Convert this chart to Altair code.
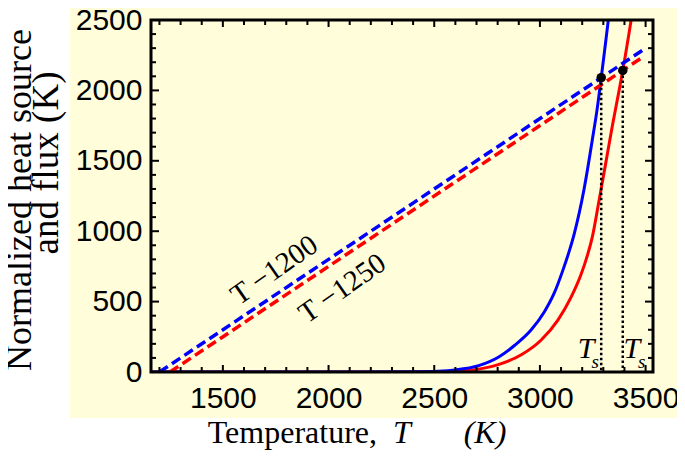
import altair as alt
import pandas as pd

# ---------------- data ----------------
blue_T = [1160, 2000, 2400, 2520, 2600, 2710, 2803, 2881, 2959, 3022, 3069, 3108, 3139,
          3162, 3209, 3248, 3270, 3290, 3305, 3322, 3340]
blue_Q = [0, 0, 2, 6, 15, 45, 105, 190, 300, 430, 565, 720, 860,
          980, 1300, 1650, 1860, 2090, 2270, 2480, 2720]

red_T = [1160, 2000, 2450, 2600, 2693, 2803, 2912, 3006, 3085, 3147, 3194, 3225,
         3248, 3280, 3311, 3343, 3374, 3392, 3405, 3421, 3440, 3455]
red_Q = [0, 0, 1, 5, 16, 52, 122, 227, 369, 530, 690, 830,
         960, 1220, 1480, 1750, 1995, 2142, 2255, 2400, 2580, 2730]

# dashed straight lines (start / end points)
dash_series = ["blue", "blue", "red", "red"]
dash_T = [1200, 3490, 1250, 3490]
dash_Q = [0, 2290, 0, 2240]

# dashed-line labels
lab_text = ["T \u22121200", "T \u22121250"]
lab_T = [1743, 2065]
lab_Q = [724, 594]

# intersection points Ts
ts_series = ["blue", "red"]
ts_T = [3290, 3392]
ts_Q = [2090, 2142]

x_major = [1500, 2000, 2500, 3000, 3500]
y_major = [0, 500, 1000, 1500, 2000, 2500]
x_minor = [1200, 1300, 1400, 1600, 1700, 1800, 1900, 2100, 2200, 2300, 2400,
           2600, 2700, 2800, 2900, 3100, 3200, 3300, 3400]
y_minor = [100, 200, 300, 400, 600, 700, 800, 900, 1100, 1200, 1300, 1400,
           1600, 1700, 1800, 1900, 2100, 2200, 2300, 2400]

# ---------------- styling ----------------
W, H = 502, 352
PAD_R = 24
BG = "#FFFDDA"
XS = alt.Scale(domain=[1160, 3535], nice=False, zero=False)
YS = alt.Scale(domain=[0, 2500], nice=False, zero=False)
XA = alt.Axis(values=x_major, ticks=False, domain=False, grid=False, title=None,
              labelFont="Liberation Sans", labelFontSize=30, labelColor="black",
              labelPadding=11, labelFlush=False, labelOverlap=False, format="d", zindex=3)
YA = alt.Axis(values=y_major, ticks=False, domain=False, grid=False, title=None,
              labelFont="Liberation Sans", labelFontSize=30, labelColor="black",
              labelPadding=9, labelFlush=False, labelOverlap=False, format="d", zindex=3)
COL = alt.Scale(domain=["blue", "red"], range=["#0000FF", "#FF0000"])


def X(f="T"):
    return alt.X(f + ":Q", scale=XS, axis=XA)


def Y(f="Q"):
    return alt.Y(f + ":Q", scale=YS, axis=YA)


blue_df = pd.DataFrame({"T": blue_T, "Q": blue_Q, "s": "blue"})
red_df = pd.DataFrame({"T": red_T, "Q": red_Q, "s": "red"})
dashes = pd.DataFrame({"T": dash_T, "Q": dash_Q, "s": dash_series})
labels = pd.DataFrame({"T": lab_T, "Q": lab_Q, "txt": lab_text})
tsdf = pd.DataFrame({"T": ts_T, "Q": ts_Q, "Z": [0, 0], "s": ts_series})
one = pd.DataFrame({"a": [0]})

bg = alt.Chart(one).mark_rect(color=BG).encode(
    x=alt.value(-81), x2=alt.value(W + PAD_R), y=alt.value(-20), y2=alt.value(398))


def curve(df):
    return alt.Chart(df).mark_line(strokeWidth=3, clip=True, interpolate="monotone").encode(
        x=X(), y=Y(), color=alt.Color("s:N", scale=COL, legend=None))


dash_layer = alt.Chart(dashes).mark_line(strokeWidth=3.5, strokeDash=[10, 5], clip=True).encode(
    x=X(), y=Y(), color=alt.Color("s:N", scale=COL, legend=None), detail="s:N")

dotted = alt.Chart(tsdf).mark_rule(color="black", strokeWidth=2.5, strokeDash=[2.5, 2.5]).encode(
    x=X(), y=Y(), y2="Z:Q")

points = alt.Chart(tsdf).mark_circle(color="black", size=90, opacity=1).encode(x=X(), y=Y())

label_layer = alt.Chart(labels).mark_text(
    font="Liberation Serif", fontSize=29, angle=325, color="black",
    align="center", baseline="middle").encode(x=X(), y=Y(), text="txt:N")

ts_blue = tsdf[tsdf.s == "blue"]
ts_red = tsdf[tsdf.s == "red"]
tsT1 = alt.Chart(ts_blue).mark_text(font="Liberation Serif", fontStyle="italic", fontSize=30,
                                    dx=-15, dy=-14, align="center", baseline="alphabetic",
                                    color="black").encode(x=X(), y=Y("Z"), text=alt.value("T"))
tss1 = alt.Chart(ts_blue).mark_text(font="Liberation Serif", fontStyle="italic", fontSize=19,
                                    dx=-6, dy=-4, align="center", baseline="alphabetic",
                                    color="black").encode(x=X(), y=Y("Z"), text=alt.value("s"))
tsT2 = alt.Chart(ts_red).mark_text(font="Liberation Serif", fontStyle="italic", fontSize=30,
                                   dx=9, dy=-14, align="center", baseline="alphabetic",
                                   color="black").encode(x=X(), y=Y("Z"), text=alt.value("T"))
tss2 = alt.Chart(ts_red).mark_text(font="Liberation Serif", fontStyle="italic", fontSize=19,
                                   dx=19, dy=-4, align="center", baseline="alphabetic",
                                   color="black").encode(x=X(), y=Y("Z"), text=alt.value("s"))

# inward frame ticks
xmaj = pd.DataFrame({"T": x_major})
xmin = pd.DataFrame({"T": x_minor})
ymaj = pd.DataFrame({"Q": y_major})
ymin = pd.DataFrame({"Q": y_minor})
tick_layers = []
for df, ln in ((xmaj, 7), (xmin, 5)):
    tick_layers.append(alt.Chart(df).mark_rule(color="black", strokeWidth=2).encode(
        x=X(), y=alt.value(H), y2=alt.value(H - ln)))
    tick_layers.append(alt.Chart(df).mark_rule(color="black", strokeWidth=2).encode(
        x=X(), y=alt.value(0), y2=alt.value(ln)))
for df, ln in ((ymaj, 8), (ymin, 5)):
    tick_layers.append(alt.Chart(df).mark_rule(color="black", strokeWidth=2).encode(
        y=Y(), x=alt.value(0), x2=alt.value(ln)))
    tick_layers.append(alt.Chart(df).mark_rule(color="black", strokeWidth=2).encode(
        y=Y(), x=alt.value(W), x2=alt.value(W - ln)))

frame = alt.Chart(one).mark_rect(filled=False, stroke="black", strokeWidth=3).encode(
    x=alt.value(0), x2=alt.value(W), y=alt.value(0), y2=alt.value(H))

# titles
xt1 = alt.Chart(one).mark_text(font="Liberation Serif", fontSize=32, align="right",
                               baseline="alphabetic", color="black").encode(
    x=alt.value(226), y=alt.value(423), text=alt.value("Temperature,"))
xt2 = alt.Chart(one).mark_text(font="Liberation Serif", fontSize=32, fontStyle="italic",
                               align="left", baseline="alphabetic", color="black").encode(
    x=alt.value(242), y=alt.value(423), text=alt.value("T"))
xt3 = alt.Chart(one).mark_text(font="Liberation Serif", fontSize=32, fontStyle="italic",
                               align="center", baseline="alphabetic", color="black").encode(
    x=alt.value(334), y=alt.value(423), text=alt.value("(K)"))
yt1 = alt.Chart(one).mark_text(font="Liberation Serif", fontSize=36, angle=270, align="center",
                               baseline="middle", color="black").encode(
    x=alt.value(-131), y=alt.value(180), text=alt.value("Normalized heat source"))
yt2 = alt.Chart(one).mark_text(font="Liberation Serif", fontSize=37, angle=270, align="center",
                               baseline="middle", color="black").encode(
    x=alt.value(-104), y=alt.value(143), text=alt.value("and flux (K)"))

chart = alt.layer(
    bg, curve(red_df), curve(blue_df), dash_layer, dotted, points, label_layer,
    tsT1, tss1, tsT2, tss2, *tick_layers, frame, xt1, xt2, xt3, yt1, yt2
).properties(
    width=W, height=H,
    autosize=alt.AutoSizeParams(type="none"),
    padding={"left": 143, "top": 12, "right": PAD_R, "bottom": 86},
    background="white",
).configure_view(stroke=None, fill=BG)

chart.save("out.html", embed_options={"renderer": "svg", "actions": False})
